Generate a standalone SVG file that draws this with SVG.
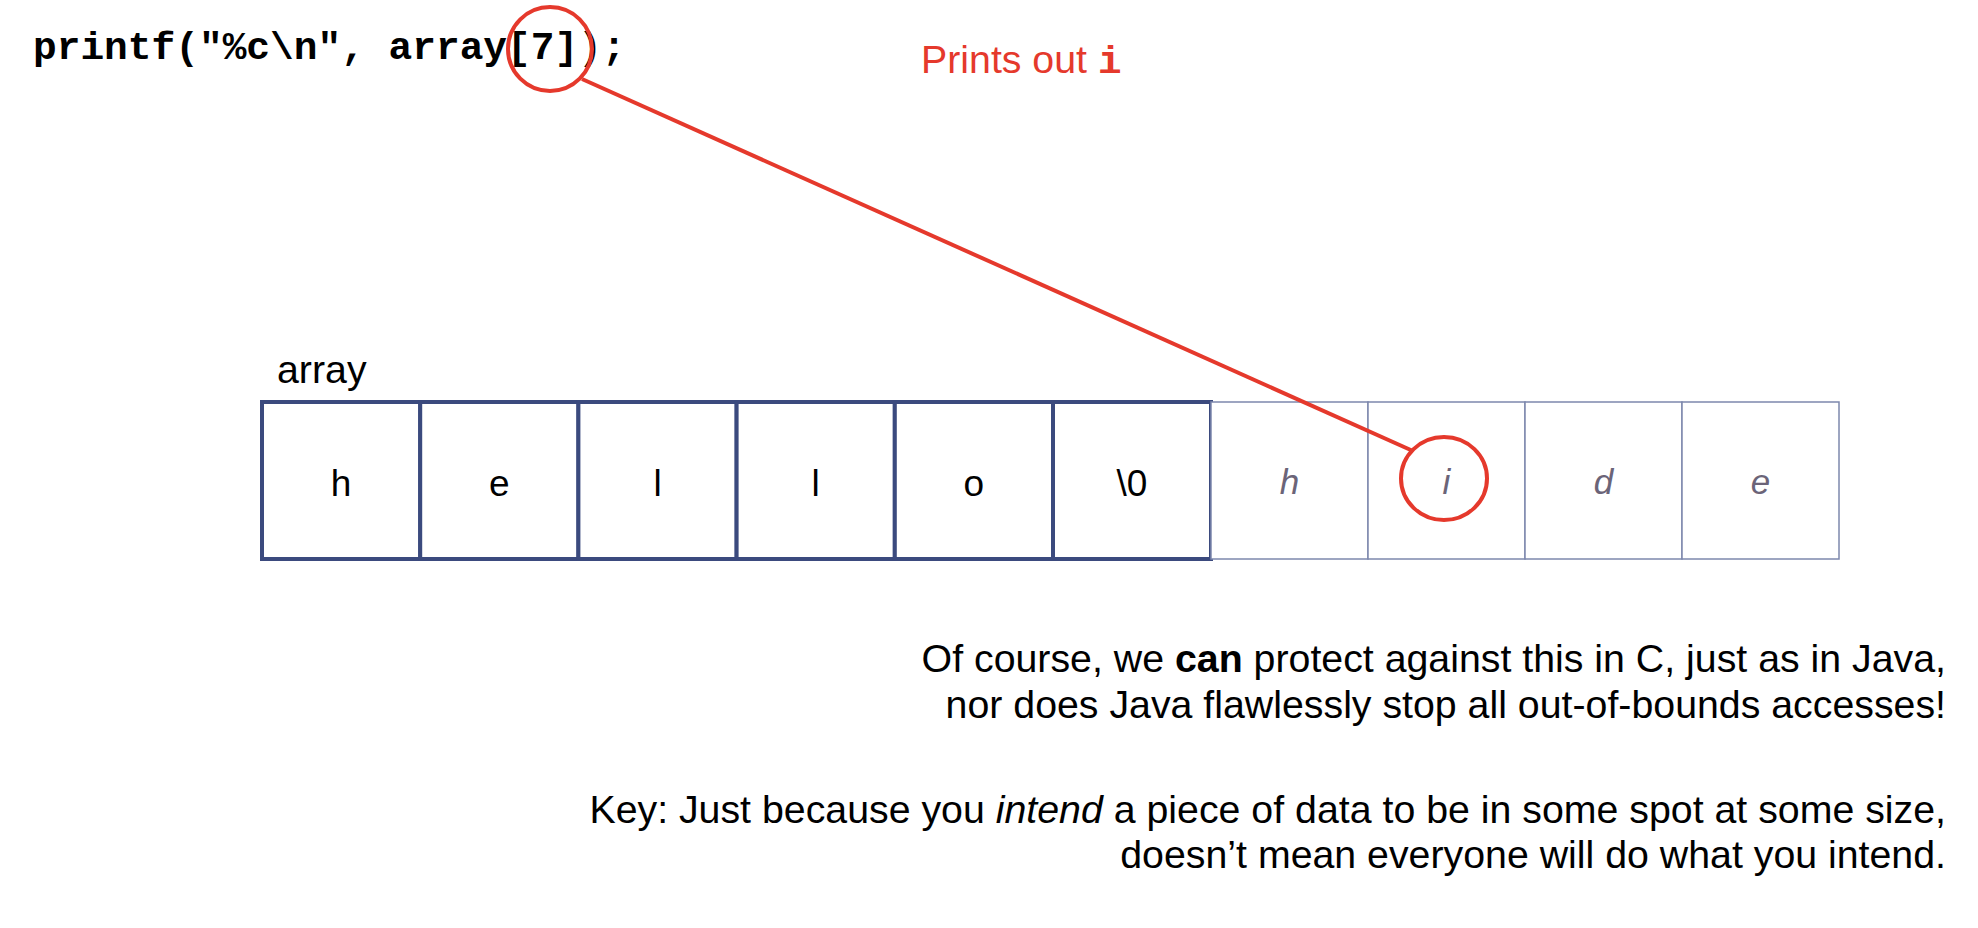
<svg xmlns="http://www.w3.org/2000/svg" width="1978" height="928" viewBox="0 0 1978 928">
  <style>
    .sans { font-family: "Liberation Sans", Arial, Helvetica, sans-serif; }
    .code { font-family: "Liberation Mono", "Courier New", monospace; font-weight: bold; }
    .cell { fill: #ffffff; stroke: #3b4a7e; stroke-width: 4; }
    .ghost { fill: #ffffff; stroke: #7d88ad; stroke-width: 1.5; }
    .val { font-family: "Liberation Sans", Arial, sans-serif; font-size: 37px; fill: #000000; text-anchor: middle; }
    .gval { font-family: "Liberation Sans", Arial, sans-serif; font-size: 35px; fill: #6b6478; font-style: italic; text-anchor: middle; }
    .mark { fill: none; stroke: #e5392c; stroke-width: 4; }
    .note { font-family: "Liberation Sans", Arial, sans-serif; font-size: 39.3px; fill: #000000; text-anchor: end; }
  </style>
  <rect x="0" y="0" width="1978" height="928" fill="#ffffff"/>

  <!-- code line -->
  <g id="code">
    <text class="code" x="33" y="59" font-size="39.5" fill="#000000">printf("%c\n", array[7]);</text>
  </g>

  <!-- caption in red -->
  <g id="caption">
    <text class="sans" x="921" y="73" font-size="39.3" fill="#e5392c">Prints out <tspan class="code">i</tspan></text>
  </g>

  <!-- array label -->
  <g id="array-label">
    <text class="sans" x="277" y="383" font-size="39.3" fill="#000000">array</text>
  </g>

  <!-- owned cells: h e l l o \0 -->
  <g id="array-cells">
    <rect class="cell" x="262" y="402" width="158.2" height="157"/>
    <rect class="cell" x="420.2" y="402" width="158.2" height="157"/>
    <rect class="cell" x="578.4" y="402" width="158.2" height="157"/>
    <rect class="cell" x="736.6" y="402" width="158.2" height="157"/>
    <rect class="cell" x="894.8" y="402" width="158.2" height="157"/>
    <rect class="cell" x="1053" y="402" width="158" height="157"/>
    <text class="val" x="341" y="496">h</text>
    <text class="val" x="499.3" y="496">e</text>
    <text class="val" x="657.5" y="496">l</text>
    <text class="val" x="815.7" y="496">l</text>
    <text class="val" x="973.9" y="496">o</text>
    <text class="val" x="1132" y="496">\0</text>
  </g>

  <!-- neighbouring memory past the end -->
  <g id="beyond-cells">
    <rect class="ghost" x="1211" y="402" width="157" height="157"/>
    <rect class="ghost" x="1368" y="402" width="157" height="157"/>
    <rect class="ghost" x="1525" y="402" width="157" height="157"/>
    <rect class="ghost" x="1682" y="402" width="157" height="157"/>
    <text class="gval" x="1289.5" y="494">h</text>
    <text class="gval" x="1446.5" y="494">i</text>
    <text class="gval" x="1603.5" y="494">d</text>
    <text class="gval" x="1760.5" y="494">e</text>
  </g>

  <!-- highlight rings -->
  <g id="ring-index">
    <ellipse class="mark" cx="550" cy="49" rx="42" ry="42"/>
  </g>
  <g id="ring-target">
    <ellipse class="mark" cx="1444" cy="478.5" rx="43" ry="41.5"/>
  </g>

  <!-- connectors -->
  <g id="connectors">
    <line class="mark" x1="582" y1="79" x2="1413" y2="451"/>
  </g>

  <!-- notes -->
  <g id="notes">
    <text class="note" x="1946" y="672">Of course, we <tspan font-weight="bold">can</tspan> protect against this in C, just as in Java,</text>
    <text class="note" x="1946" y="718">nor does Java flawlessly stop all out-of-bounds accesses!</text>
    <text class="note" x="1946" y="823">Key: Just because you <tspan font-style="italic">intend</tspan> a piece of data to be in some spot at some size,</text>
    <text class="note" x="1946" y="868">doesn’t mean everyone will do what you intend.</text>
  </g>
</svg>
